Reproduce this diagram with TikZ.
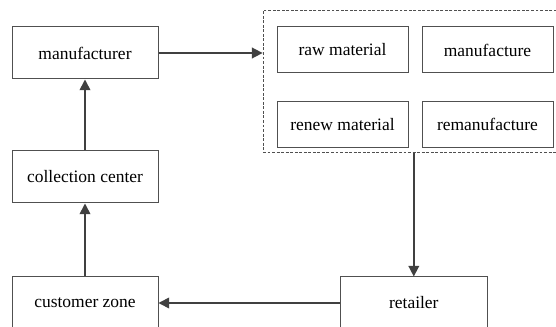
\documentclass[tikz,border=0pt]{standalone}
\usepackage{fontspec}
\setmainfont{Liberation Serif}
\usetikzlibrary{arrows.meta}
\definecolor{boxline}{HTML}{505050}
\definecolor{arrowcol}{HTML}{404040}
\tikzset{
  bigbox/.style={draw=boxline, line width=0.75pt, fill=white, minimum width=109.5pt, minimum height=39pt, inner sep=0pt, font=\fontsize{13.1}{15}\selectfont},
  smallbox/.style={draw=boxline, line width=0.75pt, fill=white, minimum width=98.25pt, minimum height=34.5pt, inner sep=0pt, font=\fontsize{13.1}{15}\selectfont},
  groupbox/.style={draw=boxline, dashed, dash pattern=on 2.2pt off 1.2pt, line width=0.6pt, minimum width=230pt, minimum height=107pt, inner sep=0pt},
  flow/.style={draw=arrowcol, line width=1.2pt, -{Triangle[length=8pt,width=8pt]}}
}
\begin{document}
\begin{tikzpicture}[x=0.75pt, y=-0.75pt]
\useasboundingbox (0,0) rectangle (556,327);
\clip (0,0) rectangle (556,327);
% dashed group
\node[groupbox] (group) at (416.35,81.5) {};
% inner boxes
\node[smallbox] (raw) at (342.5,50) {raw material};
\node[smallbox] (mfe) at (487.5,50) {manufacture};
\node[smallbox] (renew) at (342.5,124.5) {renew material};
\node[smallbox] (reman) at (487.5,124.5) {remanufacture};
% left column
\node[bigbox] (manu) at (85,53) {manufacturer};
\node[bigbox] (coll) at (85,177) {collection center};
\node[bigbox] (cust) at (85,303) {customer zone};
\node[bigbox, minimum width=110.25pt] (ret) at (413.8,303) {retailer};
% connectors
\draw[flow] (manu.east) -- (manu.east -| group.west);
\draw[flow] (group.south -| ret.north) -- (ret.north);
\draw[flow] (ret.west) -- (cust.east);
\draw[flow] (cust.north) -- (coll.south);
\draw[flow] (coll.north) -- (manu.south);
\end{tikzpicture}
\end{document}
